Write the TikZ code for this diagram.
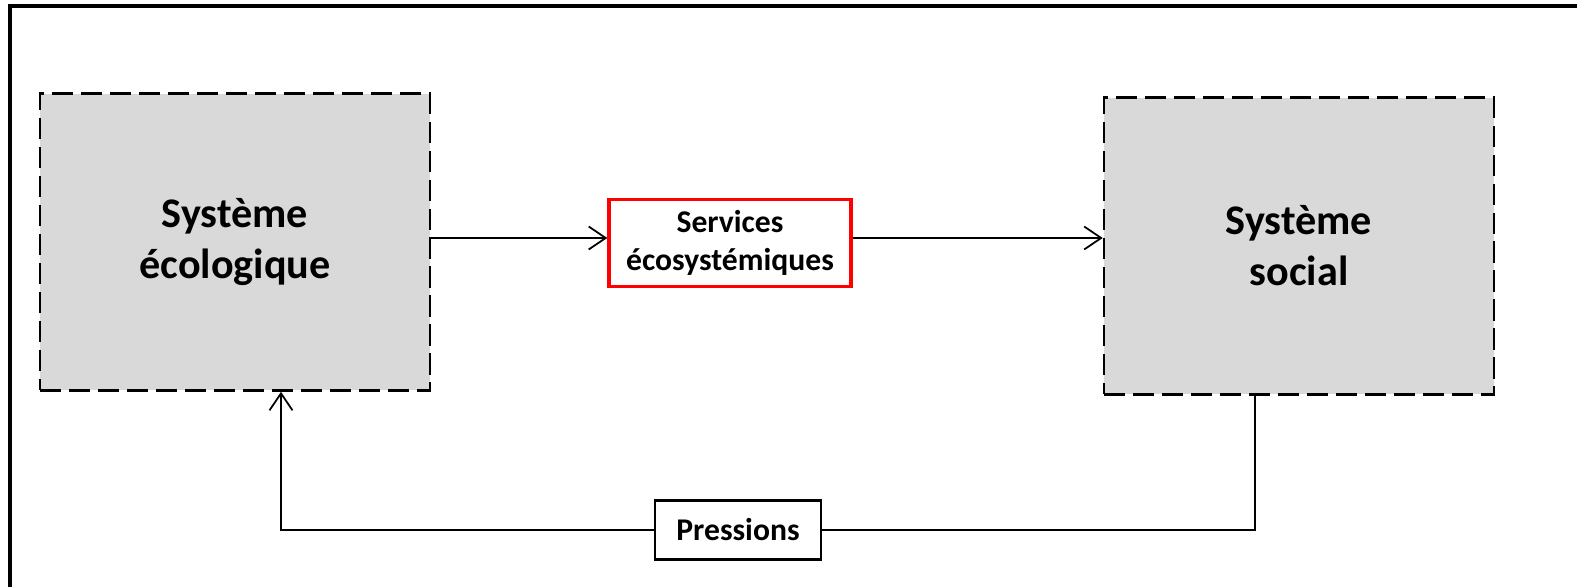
\documentclass[tikz,border=0pt]{standalone}
\usepackage{fontspec}
\setmainfont{Carlito}
\usetikzlibrary{arrows.meta,positioning}

\begin{document}
\begin{tikzpicture}[
    x=0.02cm, y=-0.02cm,
    sysbox/.style={draw, fill=black!15, line width=1.5pt, dash pattern=on 12pt off 4.5pt, minimum width=7.8cm, minimum height=5.94cm, align=center, font=\fontsize{24}{29}\selectfont\bfseries},
    smallbox/.style={draw, fill=white, line width=1.4pt, align=center, font=\fontsize{18}{22}\selectfont\bfseries},
    arr/.style={-{Straight Barb[length=3.4mm,width=4.6mm]}, line width=1pt}
]
\useasboundingbox (0,0) rectangle (1577,587);
\draw[line width=2pt] (10,587) -- (10,6) -- (1577,6);
\node[sysbox] (eco) at (235,242) {Système\\écologique};
\node[sysbox] (soc) at (1299,246) {Système\\social};
\node[smallbox, draw=red, line width=2pt, minimum width=4.84cm, minimum height=1.74cm] (serv) at (730,243) {Services\\écosystémiques};
\node[smallbox, minimum width=3.32cm, minimum height=1.18cm] (pres) at (738,530) {Pressions};
\coordinate (mid) at (0,238);
\coordinate (up) at (1255,0);
\coordinate (down) at (281,0);
\draw[arr] (eco.east |- mid) -- (serv.west |- mid);
\draw[arr] (serv.east |- mid) -- (soc.west |- mid);
\draw[line width=1pt] (soc.south -| up) |- (pres);
\draw[arr] (pres) -| (eco.south -| down);
\end{tikzpicture}
\end{document}
